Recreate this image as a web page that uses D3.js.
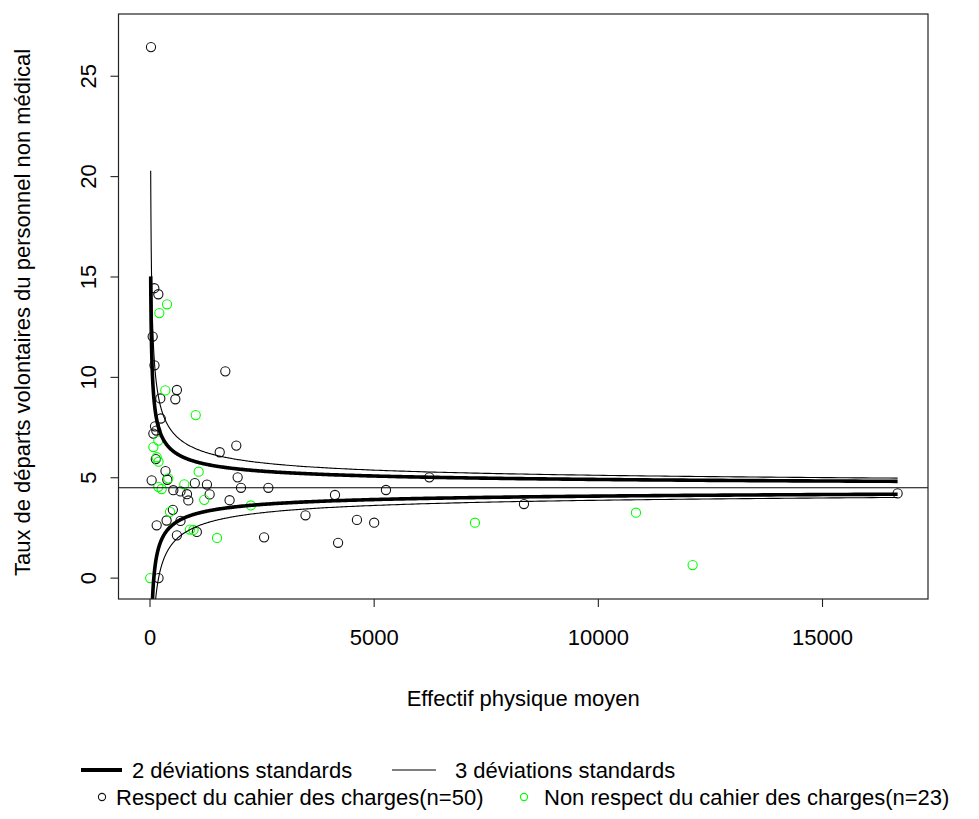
<!DOCTYPE html>
<html>
<head>
<meta charset="utf-8">
<script src="https://cdn.jsdelivr.net/npm/d3@7"></script>
<style>
  html, body { margin: 0; padding: 0; background: #fff; }
  svg text { font-family: "Liberation Sans", Arial, sans-serif; fill: #000; }
</style>
</head>
<body>
<svg id="chart" width="979" height="819"></svg>
<script>
// ---- data ----
const xTicks = [0, 5000, 10000, 15000];
const yTicks = [0, 5, 10, 15, 20, 25];

// Respect du cahier des charges (black): effectif, taux
const respectN = [22, 96, 186, 60, 100, 1680, 600, 565, 230, 240, 112, 140, 75, 1925, 1555, 130, 345, 1955, 386, 37,
  1000, 1270, 2030, 2640, 520, 680, 825, 1330, 855, 1775, 510, 370, 680, 149, 1045, 600, 2545, 190, 3468, 4126,
  4195, 4616, 5000, 5263, 6230, 8341, 16675];
const respectRate = [26.45, 14.44, 14.14, 12.03, 10.6, 10.3, 9.37, 8.91, 8.95, 7.95, 7.56, 7.35, 7.2, 6.6, 6.27, 5.93, 5.33, 5.02, 4.9, 4.87,
  4.73, 4.66, 4.5, 4.5, 4.38, 4.32, 4.18, 4.17, 3.87, 3.88, 3.4, 2.87, 2.85, 2.63, 2.3, 2.13, 2.03, 0, 3.13, 4.14,
  1.76, 2.9, 2.76, 4.39, 5.02, 3.69, 4.22];

// Non respect du cahier des charges (green)
const nonRespectN = [380, 208, 342, 1020, 186, 75, 149, 190, 1085, 408, 765, 186, 260, 1210, 2248, 446, 890, 970, 1495, 5,
  7248, 10839, 12103];
const nonRespectRate = [13.64, 13.2, 9.35, 8.12, 6.85, 6.53, 6.02, 5.8, 5.3, 4.97, 4.67, 4.55, 4.44, 3.9, 3.62, 3.3, 2.42, 2.4, 2.0, 0,
  2.76, 3.26, 0.65];

// funnel parameters
const meanRate = 4.5;        // overall rate (%)
const funnelMinN = 15.5;
const funnelMaxN = 16675;
const sdLevels = [2, 3];

const xTitle = "Effectif physique moyen";
const yTitle = "Taux de départs volontaires du personnel non médical";
const legendLines = ["2 déviations standards", "3 déviations standards"];
const legendPoints = ["Respect du cahier des charges(n=50)", "Non respect du cahier des charges(n=23)"];

// ---- layout ----
const svg = d3.select("#chart");
const L = 118.5, R = 928, T = 14, B = 599;
const x = d3.scaleLinear().domain([-702.6, 17353]).range([L, R]);
const y = d3.scaleLinear().domain([-1.04, 28.1]).range([B, T]);
const FS = 22;

svg.append("defs").append("clipPath").attr("id", "plotclip")
  .append("rect").attr("x", L).attr("y", T).attr("width", R - L).attr("height", B - T);

const plot = svg.append("g").attr("clip-path", "url(#plotclip)");

// points
function drawPoints(ns, rs, color) {
  plot.selectAll(null).data(ns.map((n, i) => [n, rs[i]])).enter()
    .append("circle")
    .attr("cx", d => x(d[0])).attr("cy", d => y(d[1])).attr("r", 4.6)
    .attr("fill", "none").attr("stroke", color).attr("stroke-width", 1.1);
}
drawPoints(respectN, respectRate, "#111");
drawPoints(nonRespectN, nonRespectRate, "#00ff00");

// funnel limits
const nGrid = d3.range(0, 601).map(i => funnelMinN * Math.pow(funnelMaxN / funnelMinN, i / 600));
const line = d3.line().x(d => x(d[0])).y(d => y(d[1]));
sdLevels.forEach(k => {
  const w = k === 2 ? 3.6 : 1.1;
  [1, -1].forEach(sgn => {
    const pts = nGrid.map(n => [n, meanRate + sgn * k * Math.sqrt(meanRate * (100 - meanRate) / n)]);
    plot.append("path").attr("d", line(pts)).attr("fill", "none")
      .attr("stroke", "#000").attr("stroke-width", w);
  });
});

// mean line
plot.append("line").attr("x1", L).attr("x2", R).attr("y1", y(meanRate)).attr("y2", y(meanRate))
  .attr("stroke", "#000").attr("stroke-width", 1.1);

// frame
svg.append("rect").attr("x", L).attr("y", T).attr("width", R - L).attr("height", B - T)
  .attr("fill", "none").attr("stroke", "#222").attr("stroke-width", 1.2);

// x axis
const xAxis = svg.append("g");
xAxis.selectAll("line").data(xTicks).enter().append("line")
  .attr("x1", d => x(d)).attr("x2", d => x(d)).attr("y1", B).attr("y2", B + 8)
  .attr("stroke", "#222").attr("stroke-width", 1.1);
xAxis.selectAll("text").data(xTicks).enter().append("text")
  .attr("x", d => x(d)).attr("y", 645).attr("text-anchor", "middle")
  .attr("font-size", FS).text(d => d);

// y axis
const yAxis = svg.append("g");
yAxis.selectAll("line").data(yTicks).enter().append("line")
  .attr("x1", L - 8).attr("x2", L).attr("y1", d => y(d)).attr("y2", d => y(d))
  .attr("stroke", "#222").attr("stroke-width", 1.1);
yAxis.selectAll("text").data(yTicks).enter().append("text")
  .attr("transform", d => `translate(96,${y(d)}) rotate(-90)`)
  .attr("text-anchor", "middle").attr("font-size", FS).text(d => d);

// titles
svg.append("text").attr("x", (L + R) / 2).attr("y", 706).attr("text-anchor", "middle")
  .attr("font-size", FS).text(xTitle);
svg.append("text").attr("transform", `translate(30,${(T + B) / 2 + 6}) rotate(-90)`)
  .attr("text-anchor", "middle").attr("font-size", FS).text(yTitle);

// legend
const lg = svg.append("g");
lg.append("line").attr("x1", 81).attr("x2", 122).attr("y1", 770).attr("y2", 770)
  .attr("stroke", "#000").attr("stroke-width", 4);
lg.append("text").attr("x", 132).attr("y", 778).attr("font-size", FS).text(legendLines[0]);
lg.append("line").attr("x1", 392).attr("x2", 436).attr("y1", 770).attr("y2", 770)
  .attr("stroke", "#000").attr("stroke-width", 1.1);
lg.append("text").attr("x", 455).attr("y", 778).attr("font-size", FS).text(legendLines[1]);

lg.append("circle").attr("cx", 102).attr("cy", 797).attr("r", 3.6)
  .attr("fill", "none").attr("stroke", "#111").attr("stroke-width", 1.1);
lg.append("text").attr("x", 116).attr("y", 805).attr("font-size", FS).text(legendPoints[0]);
lg.append("circle").attr("cx", 524).attr("cy", 797).attr("r", 3.6)
  .attr("fill", "none").attr("stroke", "#00ff00").attr("stroke-width", 1.1);
lg.append("text").attr("x", 544).attr("y", 805).attr("font-size", FS).text(legendPoints[1]);
</script>
</body>
</html>
